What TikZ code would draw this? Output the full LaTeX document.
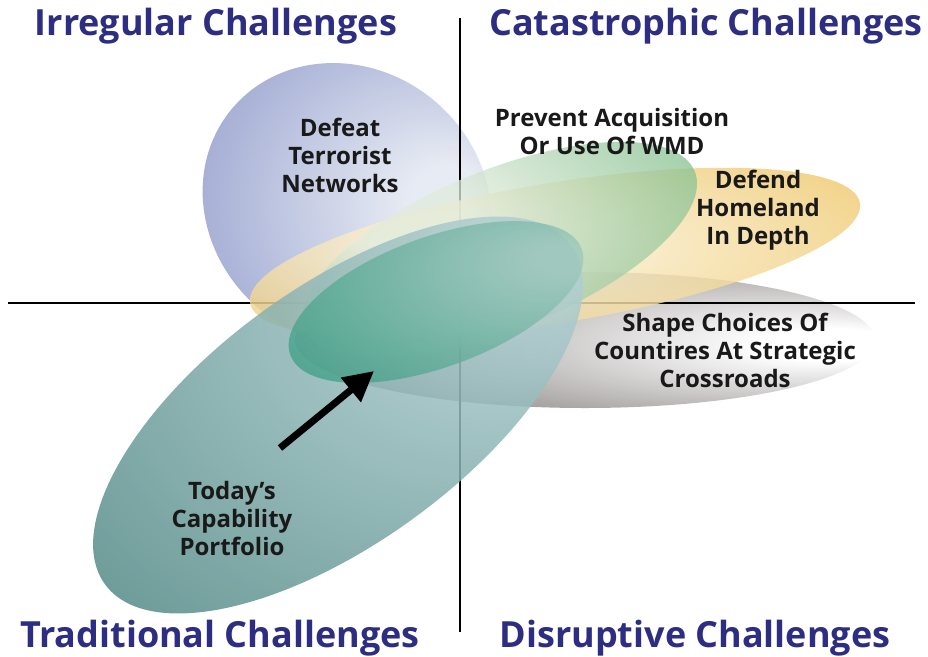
\documentclass[tikz,border=0pt]{standalone}
\usepackage{fontspec}
\setmainfont{Open Sans}
\usetikzlibrary{arrows.meta}

\definecolor{titleblue}{HTML}{2D2D82}
\definecolor{blueinner}{HTML}{E6EBF3}
\definecolor{blueouter}{HTML}{8590C6}
\definecolor{greeninner}{HTML}{E2ECDC}
\definecolor{greenouter}{HTML}{68B276}
\definecolor{yellowinner}{HTML}{FAEFD2}
\definecolor{yellowouter}{HTML}{ECC15A}
\definecolor{grayinner}{HTML}{FFFFFF}
\definecolor{grayouter}{HTML}{857E7E}
\definecolor{tealinner}{HTML}{AFCDD0}
\definecolor{tealouter}{HTML}{568C89}
\definecolor{coreinner}{HTML}{9CC6BA}
\definecolor{coreouter}{HTML}{3A9E84}

\pgfdeclareradialshading{blueblob}{\pgfpoint{18bp}{0bp}}{color(0bp)=(blueinner); color(6bp)=(blueinner); color(40bp)=(blueouter); color(50bp)=(blueouter)}
\pgfdeclareradialshading{greenblob}{\pgfpoint{-15bp}{10bp}}{color(0bp)=(greeninner); color(8bp)=(greeninner); color(40bp)=(greenouter); color(50bp)=(greenouter)}
\pgfdeclareradialshading{yellowblob}{\pgfpoint{-8bp}{4bp}}{color(0bp)=(yellowinner); color(8bp)=(yellowinner); color(38bp)=(yellowouter); color(50bp)=(yellowouter)}
\pgfdeclareradialshading{grayblob}{\pgfpoint{24bp}{-2bp}}{color(0bp)=(grayinner); color(6bp)=(grayinner); color(34bp)=(grayouter); color(50bp)=(grayouter)}
\pgfdeclareradialshading{tealblob}{\pgfpoint{20bp}{20bp}}{color(0bp)=(tealinner); color(6bp)=(tealinner); color(36bp)=(tealouter); color(50bp)=(tealouter)}
\pgfdeclareradialshading{coreblob}{\pgfpoint{22bp}{14bp}}{color(0bp)=(coreinner); color(4bp)=(coreinner); color(36bp)=(coreouter); color(50bp)=(coreouter)}

\tikzset{
  quadtitle/.style={text=titleblue, font=\bfseries\fontsize{36}{42}\selectfont},
  blobtext/.style={text=black!90, align=center, font=\bfseries\fontsize{24}{28}\selectfont},
  axisline/.style={black, line width=1.6pt},
}

\begin{document}
\begin{tikzpicture}[x=1pt, y=-1pt, >=latex]
	\useasboundingbox (0,0) rectangle (928,656);

	% 1. Ellipses behind the axes
	\shade[shading=blueblob, fill opacity=0.95, rotate around={-40:(347,205)}] (347,205) ellipse [x radius=150, y radius=136];
	\shade[shading=grayblob, fill opacity=0.92] (585,340) ellipse [x radius=290, y radius=68];

	% 2. Axes
	\coordinate (vtop) at (460,18);
	\coordinate (vbot) at (460,632);
	\coordinate (hleft) at (8,303);
	\coordinate (hright) at (915,303);
	\draw[axisline] (vtop) -- (vbot);
	\draw[axisline] (hleft) -- (hright);

	% 3. Ellipses over the axes
	\shade[shading=yellowblob, fill opacity=0.82, rotate around={9.3:(555,253)}] (555,253) ellipse [x radius=309, y radius=70];
	\shade[shading=greenblob, fill opacity=0.75, rotate around={22:(500,250)}] (500,250) ellipse [x radius=210, y radius=80];
	\shade[shading=tealblob, fill opacity=0.85, rotate around={36:(338,415)}] (338,415) ellipse [x radius=288, y radius=128];
	\shade[shading=coreblob, fill opacity=0.75, rotate around={20:(436,302)}] (436,302) ellipse [x radius=155, y radius=65];

	% 4. Quadrant titles
	\node[quadtitle] (irregular) at (216,26) {Irregular Challenges};
	\node[quadtitle] (catastrophic) at (706,26) {Catastrophic Challenges};
	\node[quadtitle] (traditional) at (220,638) {Traditional Challenges};
	\node[quadtitle] (disruptive) at (695,638) {Disruptive Challenges};

	% 5. Labels
	\node[blobtext] (defeat) at (340,155) {Defeat\\Terrorist\\Networks};
	\node[blobtext] (prevent) at (612,131) {Prevent Acquisition\\Or Use Of WMD};
	\node[blobtext] (defend) at (758,210) {Defend\\Homeland\\In Depth};
	\node[blobtext] (shape) at (725,350) {Shape Choices Of\\Countires At Strategic\\Crossroads};
	\node[blobtext] (today) at (232,518) {Today’s\\Capability\\Portfolio};

	% 6. Arrow
	\coordinate (arrtail) at (280,448);
	\coordinate (arrtip) at (374,371);
	\draw[-{Triangle[length=30pt,width=30pt]}, line width=7pt] (arrtail) -- (arrtip);
\end{tikzpicture}
\end{document}
